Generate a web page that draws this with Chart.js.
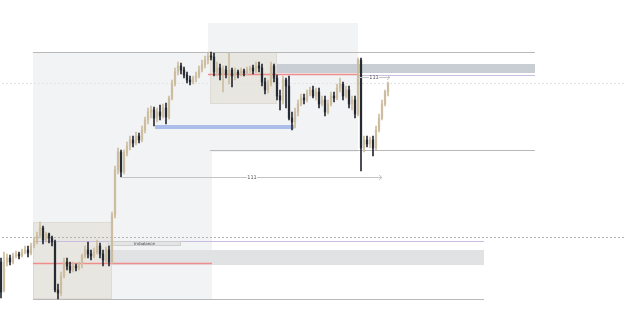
<!DOCTYPE html>
<html>
<head>
<meta charset="utf-8">
<script src="https://cdn.jsdelivr.net/npm/chart.js@4"></script>
<style>
  html, body { margin: 0; padding: 0; background: #ffffff; }
  canvas { display: block; }
</style>
</head>
<body>
<canvas id="chart" width="625" height="331"></canvas>
<script>
// candles, one per bar index
const opens  = [138,110,138,142,138,144,146,144,148,150,147,154,158,164,172,160,166,162,158,110,107,124,138,134,130,134,132,136,144,150,146,144,148,154,146,140,150,138,185,230,248,228,247,254,260,257,264,260,270,280,288,290,282,288,284,292,283,302,316,328,334,330,325,320,318,322,324,330,335,340,344,343,328,332,326,330,326,330,324,328,326,329,327,330,332,329,334,332,318,310,316,334,322,304,300,320,314,282,278,288,296,302,300,306,310,304,308,296,300,288,296,304,302,312,316,304,310,296,300,286,340,252,260,256,260,252,270,282,296,308];
const highs  = [142,148,146,145,147,149,148,151,154,154,157,162,168,178,174,168,167,164,160,116,128,142,142,138,138,136,138,146,154,158,150,152,160,157,150,153,154,188,234,252,250,250,258,264,264,268,267,274,283,292,294,293,292,295,296,297,304,320,332,338,337,333,328,324,324,328,334,340,344,348,348,347,338,336,334,334,347,332,332,330,332,331,333,334,335,338,338,336,322,320,338,336,325,310,324,322,324,288,292,300,306,306,310,313,314,312,312,304,304,300,308,308,316,322,318,314,314,304,304,342,342,264,264,263,264,274,286,300,310,318];
const lows   = [102,108,134,135,136,142,141,143,146,143,145,152,156,162,156,158,157,154,108,101,104,122,130,127,128,129,130,132,142,142,140,142,146,142,134,137,134,136,182,226,223,226,244,250,253,255,257,258,267,276,282,274,278,280,282,276,281,300,314,325,326,322,317,315,316,318,322,328,332,336,340,324,324,320,308,322,316,313,320,322,324,324,325,327,326,327,328,314,306,307,314,318,300,290,296,292,280,270,272,284,294,296,298,304,302,300,292,294,284,286,294,298,300,308,300,302,292,290,282,284,229,248,253,252,244,250,268,280,294,304];
const closes = [108,138,142,138,144,146,144,148,150,147,154,158,164,172,160,166,162,158,110,107,124,138,134,130,134,132,136,144,150,146,144,148,154,146,140,150,138,185,230,248,228,247,254,260,257,264,260,270,280,288,290,282,288,284,292,283,302,316,328,334,330,325,320,318,322,324,330,335,340,344,343,328,332,326,330,326,330,324,328,326,329,327,330,332,329,334,332,318,310,316,334,322,304,300,320,314,282,278,288,296,302,300,306,310,304,308,296,300,288,296,304,302,312,316,304,310,296,300,286,340,252,260,256,260,252,270,282,296,308,316];

// drawn objects, in bar index / price units
const zones = [
  // [fromIndex, toIndex, top, bottom, kind]
  [10.67, 70.33, 348, 101, "range"],
  [69, 119, 377, 248, "range"],
  [10.67, 37, 178, 101, "block"],
  [69.67, 92, 348, 296, "block"],
  [92, 178, 336, 327, "supply"],
  [35.67, 161, 150, 135, "gap"],
];
const levels = [
  // [fromIndex, toIndex, price, kind]
  [10.67, 178, 348, "grey"],
  [69.67, 178, 250, "grey"],
  [10.67, 161, 101, "grey"],
  [69, 119, 326, "red"],
  [10.67, 70.33, 137, "red"],
  [119, 178, 325, "purple"],
  [10.67, 161, 159, "purple"],
  [51.33, 97.67, 273, "blue"],
  [-1, 210, 317, "dotLight"],
  [-1, 210, 163, "dotDark"],
];
const measures = [
  // [fromIndex, toIndex, price, label]
  [40.33, 127, 223, "111"],
  [119, 129.67, 323, "111"],
];
const tags = [
  // [fromIndex, toIndex, top, bottom, text]
  [35.67, 60, 159, 154, "Imbalance"],
];

const BULL = "#cdbd9f";
const BEAR = "#262a33";

const zoneStyle = {
  range:  { fill: "#f2f3f5", stroke: null },
  block:  { fill: "#e8e6e1", stroke: "#dedbd4" },
  supply: { fill: "#c9ced5", stroke: null },
  gap:    { fill: "#e1e2e4", stroke: null },
};
const levelStyle = {
  grey:     { color: "#b9b9b9", width: 1, dash: [] },
  red:      { color: "#ef8c8c", width: 1.5, dash: [] },
  purple:   { color: "#c9bde0", width: 1, dash: [] },
  blue:     { color: "#adbde9", width: 4, dash: [] },
  dotLight: { color: "#e2e2e2", width: 1, dash: [2, 2] },
  dotDark:  { color: "#b3b3b3", width: 1, dash: [2, 2] },
};

const drawingsPlugin = {
  id: "drawings",
  beforeDatasetsDraw(chart) {
    const { ctx, scales: { x, y } } = chart;
    ctx.save();
    for (const [a, b, top, bottom, kind] of zones) {
      const s = zoneStyle[kind];
      const x1 = Math.round(x.getPixelForValue(a));
      const x2 = Math.round(x.getPixelForValue(b));
      const y1 = Math.round(y.getPixelForValue(top));
      const y2 = Math.round(y.getPixelForValue(bottom));
      ctx.fillStyle = s.fill;
      ctx.fillRect(x1, y1, x2 - x1, y2 - y1);
      if (s.stroke) {
        ctx.strokeStyle = s.stroke;
        ctx.lineWidth = 1;
        ctx.strokeRect(x1 + 0.5, y1 + 0.5, x2 - x1 - 1, y2 - y1 - 1);
      }
    }
    for (const [a, b, price, kind] of levels) {
      const s = levelStyle[kind];
      const py = Math.round(y.getPixelForValue(price)) + (s.width % 2 ? 0.5 : 0);
      ctx.strokeStyle = s.color;
      ctx.lineWidth = s.width;
      ctx.setLineDash(s.dash);
      ctx.beginPath();
      ctx.moveTo(x.getPixelForValue(a), py);
      ctx.lineTo(x.getPixelForValue(b), py);
      ctx.stroke();
    }
    ctx.setLineDash([]);
    for (const [a, b, top, bottom, text] of tags) {
      const x1 = Math.round(x.getPixelForValue(a));
      const x2 = Math.round(x.getPixelForValue(b));
      const y1 = Math.round(y.getPixelForValue(top));
      const y2 = Math.round(y.getPixelForValue(bottom));
      ctx.fillStyle = "#e4e4e4";
      ctx.fillRect(x1, y1, x2 - x1, y2 - y1);
      ctx.strokeStyle = "#cfcfcf";
      ctx.strokeRect(x1 + 0.5, y1 + 0.5, x2 - x1 - 1, y2 - y1 - 1);
      ctx.fillStyle = "#444";
      ctx.font = "4px 'DejaVu Sans'";
      ctx.textAlign = "center";
      ctx.textBaseline = "middle";
      ctx.fillText(text, (x1 + x2) / 2, (y1 + y2) / 2);
    }
    ctx.restore();
  },
  afterDatasetsDraw(chart) {
    const { ctx, scales: { x, y } } = chart;
    ctx.save();
    for (const [a, b, price, label] of measures) {
      const x1 = x.getPixelForValue(a);
      const x2 = x.getPixelForValue(b);
      const py = Math.round(y.getPixelForValue(price)) + 0.5;
      const mid = (x1 + x2) / 2;
      ctx.strokeStyle = "#c4c4c4";
      ctx.lineWidth = 1;
      ctx.beginPath();
      ctx.moveTo(x1, py);
      ctx.lineTo(mid - 5, py);
      ctx.moveTo(mid + 5, py);
      ctx.lineTo(x2, py);
      ctx.moveTo(x2 - 3, py - 2.5);
      ctx.lineTo(x2, py);
      ctx.lineTo(x2 - 3, py + 2.5);
      ctx.stroke();
      ctx.fillStyle = "#555";
      ctx.font = "5px 'DejaVu Sans'";
      ctx.textAlign = "center";
      ctx.textBaseline = "middle";
      ctx.fillText(label, mid, py);
    }
    ctx.restore();
  },
};

const colorOf = (c) => (closes[c.dataIndex] >= opens[c.dataIndex] ? BULL : BEAR);

new Chart(document.getElementById("chart"), {
  type: "bar",
  data: {
    datasets: [
      {
        label: "body",
        data: opens.map((o, i) => ({ x: i, y: [o, closes[i]] })),
        backgroundColor: colorOf,
        barThickness: 1.6,
        minBarLength: 1,
        grouped: false,
        borderWidth: 0,
      },
      {
        label: "wick",
        data: lows.map((l, i) => ({ x: i, y: [l, highs[i]] })),
        backgroundColor: colorOf,
        barThickness: 1,
        grouped: false,
        borderWidth: 0,
      },
    ],
  },
  options: {
    responsive: false,
    animation: false,
    layout: { padding: 0 },
    plugins: {
      legend: { display: false },
      tooltip: { enabled: false },
    },
    scales: {
      x: { type: "linear", display: false, offset: false, min: -0.333, max: 208 },
      y: { display: false, min: 69, max: 400 },
    },
  },
  plugins: [drawingsPlugin],
});
</script>
</body>
</html>
